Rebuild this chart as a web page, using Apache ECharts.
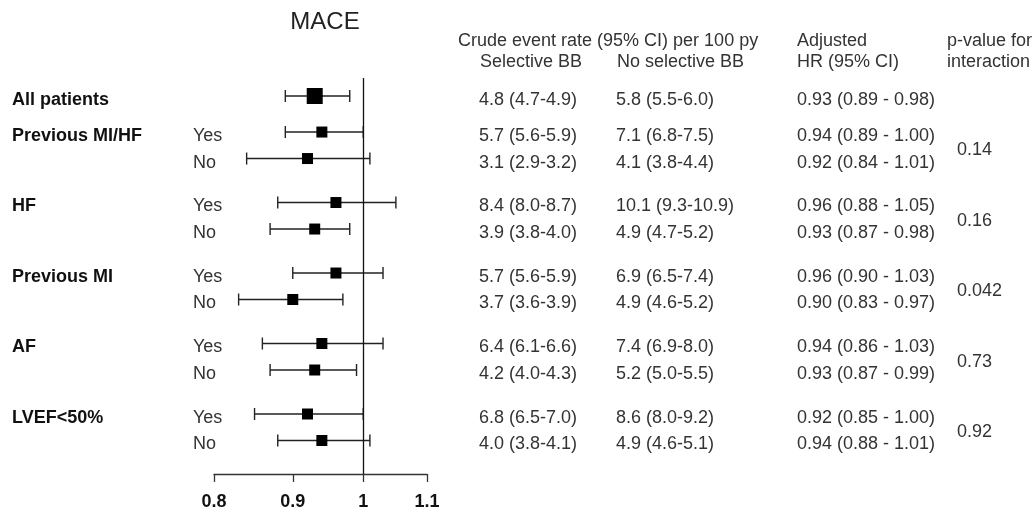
<!DOCTYPE html>
<html>
<head>
<meta charset="utf-8">
<script src="https://cdn.jsdelivr.net/npm/echarts@6/dist/echarts.min.js"></script>
<style>
  html, body { margin: 0; padding: 0; background: #fff; }
  #chart { width: 1034px; height: 512px; }
</style>
</head>
<body>
<div id="chart"></div>
<script>
// ---------------- data ----------------
const title = 'MACE';
const groupLabels = ['All patients', 'Previous MI/HF', 'HF', 'Previous MI', 'AF', 'LVEF<50%'];
const subLabels = ['Yes', 'No'];
// rows: All patients, then Yes/No for each subgroup
const hr     = [0.93, 0.94, 0.92, 0.96, 0.93, 0.96, 0.90, 0.94, 0.93, 0.92, 0.94];
const hrLow  = [0.89, 0.89, 0.84, 0.88, 0.87, 0.90, 0.83, 0.86, 0.87, 0.85, 0.88];
const hrHigh = [0.98, 1.00, 1.01, 1.05, 0.98, 1.03, 0.97, 1.03, 0.99, 1.00, 1.01];
const rateSelective = ['4.8 (4.7-4.9)', '5.7 (5.6-5.9)', '3.1 (2.9-3.2)', '8.4 (8.0-8.7)', '3.9 (3.8-4.0)',
  '5.7 (5.6-5.9)', '3.7 (3.6-3.9)', '6.4 (6.1-6.6)', '4.2 (4.0-4.3)', '6.8 (6.5-7.0)', '4.0 (3.8-4.1)'];
const rateNonSelective = ['5.8 (5.5-6.0)', '7.1 (6.8-7.5)', '4.1 (3.8-4.4)', '10.1 (9.3-10.9)', '4.9 (4.7-5.2)',
  '6.9 (6.5-7.4)', '4.9 (4.6-5.2)', '7.4 (6.9-8.0)', '5.2 (5.0-5.5)', '8.6 (8.0-9.2)', '4.9 (4.6-5.1)'];
const pInteraction = ['0.14', '0.16', '0.042', '0.73', '0.92'];
const xTicks = [0.8, 0.9, 1, 1.1];
const headerRate = 'Crude event rate (95% CI) per 100 py';
const headerSel = 'Selective BB';
const headerNonSel = 'No selective BB';
const headerHR = ['Adjusted', 'HR (95% CI)'];
const headerP = ['p-value for', 'interaction'];

// ---------------- layout ----------------
const ALL_GAP = 1.36;      // gap (row units) between overall row and first subgroup
const GROUP_STEP = 2.66;   // distance between subgroup blocks
function rowPos(i) {
  if (i === 0) return 0;
  return ALL_GAP + Math.floor((i - 1) / 2) * GROUP_STEP + (i - 1) % 2;
}
const FONT = '"Liberation Sans", Arial, Helvetica, sans-serif';
const TXT = '#333';
const lnTicks = xTicks.map(v => Math.log(v));

const chart = echarts.init(document.getElementById('chart'), null, { renderer: 'canvas' });

const whiskerData = hr.map((_, i) => [Math.log(hrLow[i]), Math.log(hrHigh[i]), rowPos(i)]);
const pointData = hr.map((v, i) => ({ value: [Math.log(v), rowPos(i)], symbolSize: i === 0 ? 16 : 11 }));

chart.setOption({
  animation: false,
  backgroundColor: '#fff',
  title: {
    text: title, left: 320, top: 5, textAlign: 'center',
    textStyle: { fontFamily: FONT, fontSize: 24, fontWeight: 'normal', color: '#222' }
  },
  grid: { left: 214, width: 213, top: 78, height: 396 },
  xAxis: {
    type: 'value',
    min: Math.log(0.8), max: Math.log(1.1),
    axisLine: { show: true, onZero: false, lineStyle: { color: '#333', width: 1.3 } },
    axisTick: { show: true, customValues: lnTicks, length: 8, inside: false, lineStyle: { color: '#333', width: 1.3 } },
    axisLabel: {
      customValues: lnTicks, margin: 19,
      formatter: v => String(Math.round(Math.exp(v) * 10) / 10),
      fontFamily: FONT, fontSize: 18, fontWeight: 'bold', color: '#111'
    },
    splitLine: { show: false }
  },
  yAxis: {
    type: 'value', inverse: true,
    min: -18 / 26.5, max: 378 / 26.5,
    show: false, splitLine: { show: false }
  },
  series: [
    {
      type: 'custom',
      data: whiskerData,
      silent: true,
      renderItem: function (params, api) {
        const a = api.coord([api.value(0), api.value(2)]);
        const b = api.coord([api.value(1), api.value(2)]);
        const h = 6;
        const st = { stroke: '#222', lineWidth: 1.4 };
        return {
          type: 'group',
          children: [
            { type: 'line', shape: { x1: a[0], y1: a[1], x2: b[0], y2: b[1] }, style: st },
            { type: 'line', shape: { x1: a[0], y1: a[1] - h, x2: a[0], y2: a[1] + h }, style: st },
            { type: 'line', shape: { x1: b[0], y1: b[1] - h, x2: b[0], y2: b[1] + h }, style: st }
          ]
        };
      },
      markLine: {
        silent: true, symbol: ['none', 'none'],
        label: { show: false },
        lineStyle: { color: '#111', width: 1.3, type: 'solid' },
        data: [{ xAxis: 0 }]
      },
      z: 2
    },
    {
      type: 'scatter',
      symbol: 'rect',
      data: pointData,
      itemStyle: { color: '#000', opacity: 1 },
      silent: true,
      z: 3
    }
  ]
});

// ---------------- text columns ----------------
function py(pos) { return chart.convertToPixel({ gridIndex: 0 }, [0, pos])[1]; }
function txt(text, x, y, opts) {
  opts = opts || {};
  return {
    type: 'text', silent: true,
    style: {
      text: text, x: x, y: y,
      fill: opts.fill || TXT,
      font: (opts.bold ? 'bold ' : '') + (opts.size || 18) + 'px ' + FONT,
      align: opts.align || 'left', verticalAlign: 'middle'
    }
  };
}
const g = [];
const OFF = 4;
// headers
g.push(txt(headerRate, 458, 41));
g.push(txt(headerSel, 480, 62));
g.push(txt(headerNonSel, 617, 62));
g.push(txt(headerHR[0], 797, 41));
g.push(txt(headerHR[1], 797, 62));
g.push(txt(headerP[0], 947, 41));
g.push(txt(headerP[1], 947, 62));

hr.forEach((v, i) => {
  const y = py(rowPos(i)) + OFF;
  if (i === 0) {
    g.push(txt(groupLabels[0], 12, y, { bold: true, fill: '#111' }));
  } else {
    const gi = 1 + Math.floor((i - 1) / 2);
    const si = (i - 1) % 2;
    if (si === 0) g.push(txt(groupLabels[gi], 12, y, { bold: true, fill: '#111' }));
    g.push(txt(subLabels[si], 193, y));
  }
  g.push(txt(rateSelective[i], 479, y));
  g.push(txt(rateNonSelective[i], 616, y));
  g.push(txt(hr[i].toFixed(2) + ' (' + hrLow[i].toFixed(2) + ' - ' + hrHigh[i].toFixed(2) + ')', 797, y));
});
pInteraction.forEach((p, k) => {
  const y = (py(rowPos(1 + 2 * k)) + py(rowPos(2 + 2 * k))) / 2 + 5;
  g.push(txt(p, 957, y));
});
chart.setOption({ graphic: { elements: g } });
</script>
</body>
</html>
